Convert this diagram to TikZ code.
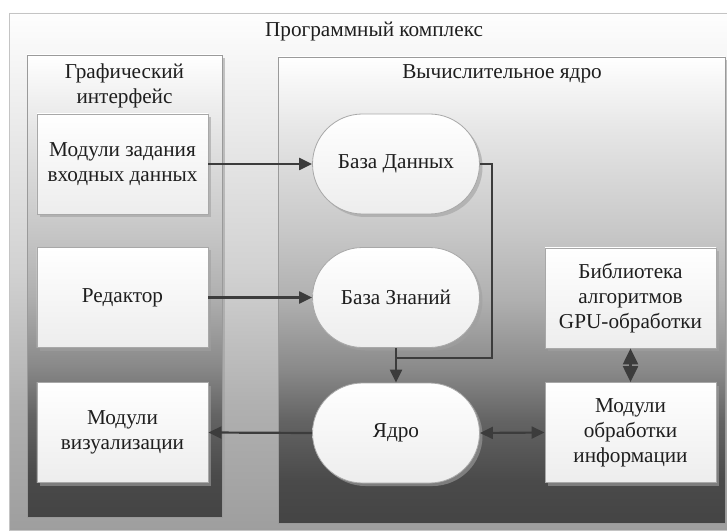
\documentclass[tikz,border=0pt]{standalone}
\usepackage{fontspec}
\setmainfont{Liberation Serif}
\usetikzlibrary{arrows.meta,shapes.misc,shadows}
\definecolor{txt}{HTML}{1E1E1E}
\definecolor{ln}{HTML}{3C3C3C}
\definecolor{bord}{HTML}{A8A8A8}
\definecolor{pbord}{HTML}{9A9A9A}
\definecolor{obord}{HTML}{C4C4C4}
\definecolor{shd}{HTML}{A0A0A0}
\definecolor{boxbot}{HTML}{EDEDED}
\pgfdeclareverticalshading{panelshade}{100bp}{rgb(0bp)=(0.267,0.267,0.267); rgb(25bp)=(0.267,0.267,0.267); rgb(29.5bp)=(0.29,0.29,0.29); rgb(36bp)=(0.39,0.39,0.39); rgb(41.5bp)=(0.54,0.54,0.54); rgb(49bp)=(0.69,0.69,0.69); rgb(56.5bp)=(0.785,0.785,0.785); rgb(67bp)=(0.9,0.9,0.9); rgb(75bp)=(1,1,1); rgb(100bp)=(1,1,1)}
\pgfdeclareverticalshading{outershade}{100bp}{rgb(0bp)=(0.62,0.62,0.62); rgb(25bp)=(0.62,0.62,0.62); rgb(37bp)=(0.69,0.69,0.69); rgb(50bp)=(0.82,0.82,0.82); rgb(75bp)=(0.995,0.995,0.995); rgb(100bp)=(0.995,0.995,0.995)}
\tikzset{
  outerbox/.style={draw=obord, line width=0.8bp, shading=outershade},
  panelbox/.style={draw=pbord, line width=0.8bp, shading=panelshade,
    drop shadow={shadow xshift=3bp, shadow yshift=-3bp, fill=shd, opacity=0.6}},
  box/.style={rectangle, draw=bord, line width=0.8bp, top color=white, bottom color=boxbot,
    minimum width=171bp, minimum height=100bp, align=center, inner sep=2bp,
    drop shadow={shadow xshift=3bp, shadow yshift=-3bp, fill=shd, opacity=0.6}},
  stadium/.style={box, rounded rectangle},
  title/.style={align=center, inner sep=0pt},
  conn/.style={draw=ln, line width=2.2bp},
  arr/.style={conn, -{Triangle[length=13bp,width=12bp]}},
  darr/.style={conn, {Triangle[length=13bp,width=12bp]}-{Triangle[length=13bp,width=12bp]}},
  vdarr/.style={conn, {Triangle[length=16bp,width=15bp]}-{Triangle[length=16bp,width=15bp]}},
}
\begin{document}
\begin{tikzpicture}[x=1bp,y=-1bp, font=\rmfamily\fontsize{21.3}{25}\selectfont, text=txt]
\useasboundingbox (0,0) rectangle (727,532);
\fill[white] (0,0) rectangle (727,532);
\begin{scope}
\clip (0,0) rectangle (727,532);
\path[outerbox] (9,13) rectangle (731,530);
\path[panelbox] (27,55) rectangle (222,517);
\path[panelbox] (278,57) rectangle (725,523);

\node[title] (tprog) at (374,31) {Программный комплекс};
\node[title] (tgui) at (124.5,85.5) {Графический\\интерфейс};
\node[title] (tcore) at (502,74) {Вычислительное ядро};

\node[box] (mzd) at (122.5,164) {Модули задания\\входных данных};
\node[box] (red) at (122.5,297.5) {Редактор};
\node[box] (mviz) at (122.5,432.5) {Модули\\визуализации};

\node[stadium] (bd) at (396,164) {База Данных};
\node[stadium] (bz) at (396,297.5) {База Знаний};
\node[stadium] (core) at (396,433) {Ядро};

\node[box] (lib) at (630.5,298) {Библиотека\\алгоритмов\\GPU-обработки};
\node[box] (mobr) at (630.5,432.5) {Модули\\обработки\\информации};

\coordinate (r) at (492,358);
\coordinate (j) at (396,358);

\draw[arr] (mzd.east) -- (bd.west);
\draw[arr] (red.east) -- (bz.west);
\draw[conn] (bd.east) -| (r) -- (j);
\draw[arr] (bz.south) -- (core.north);
\draw[arr] (core.west) -- (mviz.east);
\draw[darr] (core.east) -- (mobr.west);
\draw[vdarr] (lib.south) -- (mobr.north);
\end{scope}
\end{tikzpicture}
\end{document}
